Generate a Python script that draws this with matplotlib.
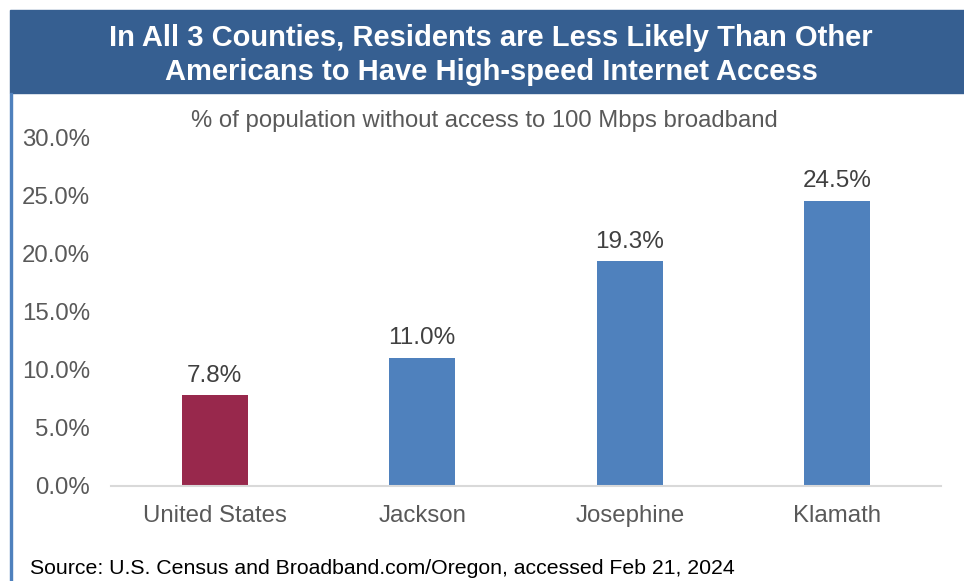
import matplotlib.pyplot as plt
from matplotlib.patches import Rectangle

categories = ["United States", "Jackson", "Josephine", "Klamath"]
pct_without = [7.8, 11.0, 19.3, 24.5]
bar_colors = ["#98284C", "#4F81BD", "#4F81BD", "#4F81BD"]
y_ticks = [0, 5, 10, 15, 20, 25, 30]

title = "In All 3 Counties, Residents are Less Likely Than Other\nAmericans to Have High-speed Internet Access"
subtitle = "% of population without access to 100 Mbps broadband"
source = "Source: U.S. Census and Broadband.com/Oregon, accessed Feb 21, 2024"

plt.rcParams['font.family'] = ['Liberation Sans', 'DejaVu Sans']
W, H = 964, 581
fig = plt.figure(figsize=(W / 100, H / 100), dpi=100)

# header banner and left rule
fig.patches.append(Rectangle((10 / W, 1 - 93 / H), 954 / W, 83 / H,
                             transform=fig.transFigure, color="#365F91", zorder=0))
fig.patches.append(Rectangle((10 / W, 0), 2 / W, 1 - 93 / H,
                             transform=fig.transFigure, color="#4F81BD", zorder=0))
fig.text(491 / W, 1 - 55 / H, title, color="white", fontsize=21, fontweight="bold",
         ha="center", va="center", linespacing=1.3)
fig.text(484 / W, 1 - 121 / H, subtitle, color="#595959", fontsize=17.2,
         ha="center", va="center")
fig.text(30 / W, 1 - 568 / H, source, color="black", fontsize=15.3,
         ha="left", va="center")

ax = fig.add_axes([111 / W, 1 - 486 / H, 830 / W, 349 / H])
x = range(len(categories))
bars = ax.bar(x, pct_without, width=0.32, color=bar_colors, zorder=2)
for b, v in zip(bars, pct_without):
    ax.text(b.get_x() + b.get_width() / 2, v + 0.75, f"{v:.1f}%", ha="center",
            va="bottom", fontsize=17.5, color="#404040")

ax.set_xlim(-0.5, len(categories) - 0.5)
ax.set_ylim(0, 30)
ax.set_yticks(y_ticks)
ax.set_yticklabels([f"{t:.1f}%" for t in y_ticks])
ax.set_xticks(list(x))
ax.set_xticklabels(categories)
ax.tick_params(axis="both", length=0, labelsize=17.3, labelcolor="#595959")
ax.tick_params(axis="y", pad=15)
ax.tick_params(axis="x", pad=14)
for s in ["top", "right", "left"]:
    ax.spines[s].set_visible(False)
ax.spines["bottom"].set_color("#D9D9D9")
ax.spines["bottom"].set_linewidth(1.5)

fig.savefig("out.png", dpi=100)
